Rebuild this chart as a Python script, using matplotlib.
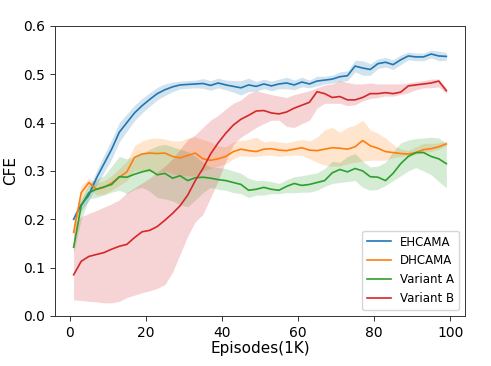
import numpy as np
from matplotlib import pyplot as plt

# episodes (in 1K)
episodes = np.arange(1, 100, 2)

labels = ["EHCAMA", "DHCAMA", "Variant A", "Variant B"]
colors = ["#1f77b4", "#ff7f0e", "#2ca02c", "#d62728"]

# EHCAMA
ehcama_mean = [0.200, 0.230, 0.250, 0.285, 0.315, 0.345, 0.380, 0.400, 0.420, 0.435,
               0.448, 0.460, 0.468, 0.474, 0.478, 0.479, 0.480, 0.481, 0.477, 0.482,
               0.478, 0.475, 0.472, 0.478, 0.475, 0.480, 0.476, 0.480, 0.482, 0.478,
               0.484, 0.480, 0.486, 0.488, 0.490, 0.495, 0.497, 0.517, 0.513, 0.510,
               0.522, 0.525, 0.520, 0.530, 0.538, 0.536, 0.536, 0.542, 0.538, 0.537]
ehcama_err = [0.010, 0.012, 0.012, 0.015, 0.018, 0.020, 0.020, 0.018, 0.016, 0.015,
              0.014, 0.013, 0.012, 0.010, 0.008, 0.008, 0.008, 0.010, 0.010, 0.010,
              0.010, 0.012, 0.015, 0.014, 0.010, 0.010, 0.010, 0.010, 0.012, 0.010,
              0.010, 0.008, 0.010, 0.008, 0.008, 0.010, 0.010, 0.012, 0.015, 0.012,
              0.010, 0.010, 0.010, 0.010, 0.008, 0.008, 0.008, 0.008, 0.010, 0.008]

# DHCAMA
dhcama_mean = [0.173, 0.255, 0.276, 0.262, 0.266, 0.275, 0.287, 0.298, 0.328, 0.335,
               0.337, 0.336, 0.337, 0.330, 0.327, 0.332, 0.337, 0.325, 0.322, 0.325,
               0.330, 0.340, 0.345, 0.342, 0.340, 0.345, 0.346, 0.343, 0.342, 0.345,
               0.348, 0.343, 0.342, 0.345, 0.348, 0.347, 0.345, 0.350, 0.363, 0.352,
               0.347, 0.340, 0.338, 0.336, 0.335, 0.338, 0.344, 0.346, 0.350, 0.356]
dhcama_low = [0.160, 0.240, 0.265, 0.250, 0.252, 0.260, 0.270, 0.280, 0.300, 0.300,
              0.298, 0.296, 0.300, 0.295, 0.290, 0.290, 0.290, 0.300, 0.305, 0.310,
              0.315, 0.325, 0.332, 0.330, 0.330, 0.332, 0.333, 0.330, 0.332, 0.333,
              0.332, 0.325, 0.318, 0.312, 0.310, 0.310, 0.315, 0.318, 0.320, 0.322,
              0.322, 0.322, 0.328, 0.330, 0.332, 0.334, 0.338, 0.340, 0.345, 0.352]
dhcama_high = [0.185, 0.270, 0.285, 0.275, 0.280, 0.290, 0.305, 0.320, 0.352, 0.362,
               0.367, 0.368, 0.366, 0.362, 0.362, 0.368, 0.370, 0.365, 0.360, 0.352,
               0.350, 0.360, 0.363, 0.365, 0.370, 0.360, 0.362, 0.360, 0.358, 0.362,
               0.365, 0.362, 0.370, 0.385, 0.390, 0.380, 0.390, 0.395, 0.405, 0.385,
               0.378, 0.368, 0.355, 0.345, 0.342, 0.350, 0.357, 0.357, 0.358, 0.362]

# Variant A
vara_mean = [0.142, 0.228, 0.255, 0.262, 0.267, 0.272, 0.288, 0.287, 0.293, 0.298,
             0.302, 0.292, 0.295, 0.285, 0.290, 0.280, 0.286, 0.287, 0.285, 0.282,
             0.280, 0.276, 0.272, 0.260, 0.262, 0.266, 0.262, 0.260, 0.268, 0.274,
             0.270, 0.272, 0.276, 0.280, 0.296, 0.303, 0.298, 0.305, 0.300, 0.288,
             0.287, 0.280, 0.295, 0.315, 0.330, 0.338, 0.338, 0.330, 0.325, 0.315]
vara_low = [0.130, 0.200, 0.242, 0.245, 0.250, 0.256, 0.260, 0.253, 0.262, 0.266,
            0.258, 0.245, 0.242, 0.238, 0.230, 0.226, 0.240, 0.255, 0.266, 0.262,
            0.260, 0.255, 0.253, 0.245, 0.250, 0.250, 0.253, 0.253, 0.255, 0.255,
            0.256, 0.256, 0.260, 0.268, 0.274, 0.276, 0.278, 0.280, 0.266, 0.260,
            0.262, 0.270, 0.280, 0.290, 0.300, 0.307, 0.300, 0.292, 0.278, 0.265]
vara_high = [0.155, 0.240, 0.275, 0.283, 0.290, 0.310, 0.330, 0.325, 0.330, 0.336,
             0.345, 0.352, 0.355, 0.350, 0.345, 0.340, 0.330, 0.318, 0.308, 0.307,
             0.305, 0.300, 0.295, 0.285, 0.280, 0.280, 0.278, 0.274, 0.282, 0.288,
             0.290, 0.293, 0.296, 0.305, 0.320, 0.318, 0.330, 0.336, 0.320, 0.308,
             0.310, 0.318, 0.340, 0.358, 0.364, 0.367, 0.368, 0.370, 0.368, 0.357]

# Variant B
varb_mean = [0.085, 0.113, 0.123, 0.127, 0.131, 0.138, 0.144, 0.148, 0.162, 0.174,
             0.177, 0.185, 0.198, 0.212, 0.228, 0.250, 0.280, 0.305, 0.335, 0.358,
             0.378, 0.395, 0.407, 0.415, 0.424, 0.425, 0.420, 0.418, 0.422, 0.430,
             0.436, 0.442, 0.464, 0.460, 0.452, 0.454, 0.447, 0.447, 0.452, 0.460,
             0.460, 0.462, 0.460, 0.463, 0.476, 0.478, 0.480, 0.482, 0.486, 0.466]
varb_low = [0.033, 0.032, 0.030, 0.029, 0.027, 0.027, 0.030, 0.038, 0.043, 0.048,
            0.052, 0.057, 0.065, 0.090, 0.128, 0.165, 0.195, 0.210, 0.245, 0.280,
            0.320, 0.355, 0.370, 0.380, 0.390, 0.398, 0.405, 0.405, 0.392, 0.390,
            0.398, 0.405, 0.430, 0.440, 0.440, 0.440, 0.435, 0.437, 0.445, 0.450,
            0.452, 0.455, 0.455, 0.458, 0.462, 0.468, 0.472, 0.472, 0.474, 0.460]
varb_high = [0.190, 0.205, 0.212, 0.218, 0.225, 0.232, 0.240, 0.255, 0.265, 0.275,
             0.285, 0.298, 0.310, 0.325, 0.345, 0.365, 0.375, 0.390, 0.405, 0.415,
             0.428, 0.440, 0.447, 0.460, 0.466, 0.462, 0.458, 0.455, 0.452, 0.458,
             0.462, 0.466, 0.472, 0.478, 0.480, 0.487, 0.483, 0.480, 0.480, 0.482,
             0.480, 0.480, 0.480, 0.480, 0.482, 0.485, 0.487, 0.490, 0.490, 0.472]

ehcama_low = np.array(ehcama_mean) - np.array(ehcama_err)
ehcama_high = np.array(ehcama_mean) + np.array(ehcama_err)

series = [
  (ehcama_mean, ehcama_low, ehcama_high),
  (dhcama_mean, dhcama_low, dhcama_high),
  (vara_mean, vara_low, vara_high),
  (varb_mean, varb_low, varb_high),
]

fig = plt.figure(figsize=(4.91, 3.66), dpi=100)
ax = fig.add_axes([0.112, 0.137, 0.835, 0.792])

for (mean, low, high), label, c in zip(series, labels, colors):
  ax.fill_between(episodes, low, high, color=c, alpha=0.2, linewidth=0)
  ax.plot(episodes, mean, color=c, linewidth=1.2, label=label)

ax.set_xlim(-3.9, 103.9)
ax.set_ylim(0.0, 0.6)
ax.set_xticks([0, 20, 40, 60, 80, 100])
ax.set_yticks([0.0, 0.1, 0.2, 0.3, 0.4, 0.5, 0.6])
for s in ax.spines.values():
  s.set_linewidth(0.7)
  s.set_color("#333333")
ax.tick_params(labelsize=10, width=0.7, color="#333333")
ax.set_xlabel("Episodes(1K)", fontsize=11, labelpad=1)
ax.set_ylabel("CFE", fontsize=11)
ax.legend(loc="lower right", fontsize=8.5)

fig.savefig("out.png", dpi=100)
